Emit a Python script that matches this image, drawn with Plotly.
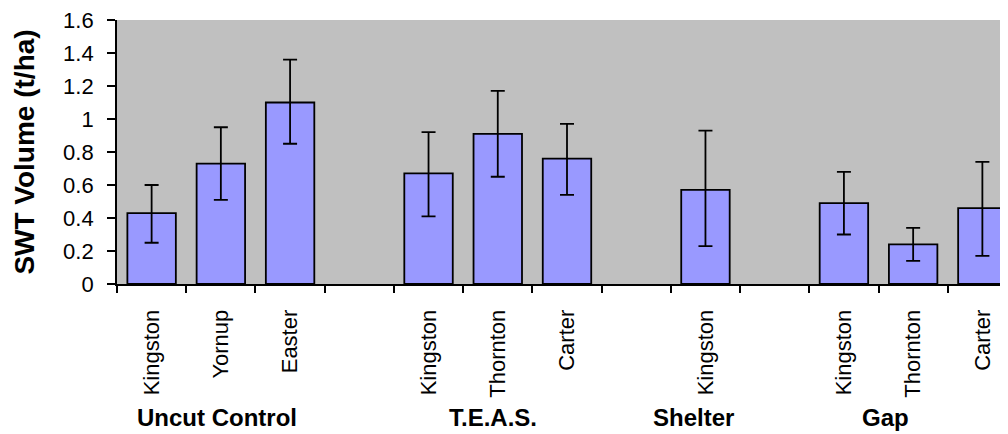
import plotly.graph_objects as go

# slot positions (empty slots separate groups)
slots = [0, 1, 2, 4, 5, 6, 8, 10, 11, 12]
sites = ["Kingston", "Yornup", "Easter", "Kingston", "Thornton", "Carter",
         "Kingston", "Kingston", "Thornton", "Carter"]
values = [0.43, 0.73, 1.10, 0.67, 0.91, 0.76, 0.57, 0.49, 0.24, 0.46]
err_plus = [0.17, 0.22, 0.26, 0.25, 0.26, 0.21, 0.36, 0.19, 0.10, 0.28]
err_minus = [0.18, 0.22, 0.25, 0.26, 0.26, 0.22, 0.34, 0.19, 0.10, 0.29]

groups = ["Uncut Control", "T.E.A.S.", "Shelter", "Gap"]
group_x = [0.95, 4.93, 7.82, 10.6]

FONT = "Liberation Sans, Arial"

fig = go.Figure()
fig.add_trace(go.Bar(
    x=slots, y=values, width=0.7,
    marker=dict(color="#9999FF", line=dict(color="black", width=1.8)),
    error_y=dict(type="data", symmetric=False, array=err_plus, arrayminus=err_minus,
                 color="black", thickness=1.8, width=7),
    showlegend=False,
))

for g, gx in zip(groups, group_x):
    fig.add_annotation(x=gx, xref="x", y=-0.505, yref="paper", text=g,
                       showarrow=False, xanchor="center", yanchor="middle",
                       font=dict(family=FONT, size=24, color="black", weight="bold"))

fig.update_layout(
    width=1000, height=426,
    margin=dict(l=109, r=0, t=9, b=150),
    paper_bgcolor="white", plot_bgcolor="#C0C0C0",
    font=dict(family=FONT, color="black"),
)
fig.update_xaxes(
    range=[-0.5, 12.37], showgrid=False, zeroline=False,
    showline=True, linecolor="black", linewidth=1.8,
    tickmode="array", tickvals=slots, ticktext=sites, tickangle=-90,
    ticks="", ticklabelstandoff=15,
    tickfont=dict(size=22, color="black"),
    minor=dict(tickmode="array", tickvals=[i - 0.5 for i in range(14)],
               ticks="outside", ticklen=7, tickwidth=1.8, tickcolor="black", showgrid=False),
)
fig.update_yaxes(
    range=[0, 1.6], dtick=0.2, showgrid=False, zeroline=False,
    showline=True, linecolor="black", linewidth=1.8,
    ticks="outside", ticklen=8, tickwidth=1.8, tickcolor="black",
    ticklabelstandoff=9, ticklabeloverflow="allow",
    tickfont=dict(size=22, color="black"),
    title=dict(text="SWT Volume (t/ha)", standoff=20,
               font=dict(family=FONT, size=28, color="black", weight="bold")),
)

fig.write_html("out.html")
